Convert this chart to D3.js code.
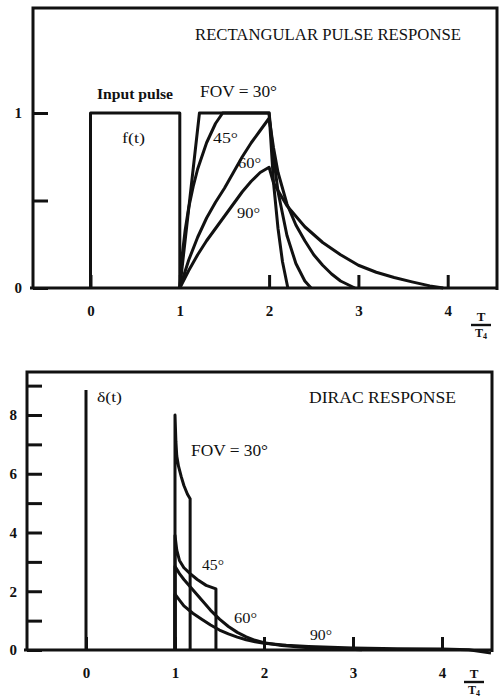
<!DOCTYPE html>
<html>
<head>
<meta charset="utf-8">
<script src="https://cdn.jsdelivr.net/npm/d3@7"></script>
<style>
  body { margin: 0; background: #fff; }
  text { font-family: "Liberation Serif", "DejaVu Serif", serif; fill: #111; }
  .curve { fill: none; stroke: #111; stroke-width: 3; stroke-linejoin: round; }
</style>
</head>
<body>
<script>
//////////
// DATA //
//////////

const xTicks = [0, 1, 2, 3, 4];

// rectangular pulse response, y in units of the pulse height
const pulseYTicks = [0, 0.5, 1];
const pulseYLabels = { 0: "0", 1: "1" };
const inputPulse = [[0, 0], [0, 1], [1, 1], [1, 0]];
const pulse30 = [[1, 0], [1.22, 1], [2, 1], [2.05, 0.6], [2.1, 0.34], [2.15, 0.15], [2.21, 0]];
const pulse45 = [[1, 0], [1.03, 0.2], [1.06, 0.33], [1.1, 0.46], [1.15, 0.58], [1.2, 0.68], [1.3, 0.83],
  [1.4, 0.94], [1.48, 1], [2, 1], [2.05, 0.75], [2.1, 0.55], [2.2, 0.3], [2.3, 0.14], [2.4, 0.04], [2.47, 0]];
const pulse60 = [[1, 0], [1.1, 0.16], [1.2, 0.29], [1.3, 0.4], [1.4, 0.49], [1.5, 0.57], [1.6, 0.66],
  [1.7, 0.75], [1.8, 0.83], [1.9, 0.9], [2, 0.97], [2.05, 0.8], [2.1, 0.66], [2.2, 0.48], [2.3, 0.36],
  [2.4, 0.27], [2.5, 0.19], [2.6, 0.13], [2.7, 0.08], [2.8, 0.04], [2.96, 0]];
const pulse90 = [[1, 0], [1.1, 0.1], [1.2, 0.19], [1.3, 0.27], [1.4, 0.34], [1.5, 0.41], [1.6, 0.48],
  [1.7, 0.55], [1.8, 0.61], [1.9, 0.66], [2, 0.69], [2.05, 0.6], [2.2, 0.47], [2.4, 0.35], [2.6, 0.26],
  [2.8, 0.19], [3, 0.13], [3.2, 0.09], [3.4, 0.06], [3.6, 0.035], [3.8, 0.012], [3.95, 0]];

// dirac response
const diracYTicks = [0, 1, 2, 3, 4, 5, 6, 7, 8, 9];
const diracYLabels = { 0: "0", 2: "2", 4: "4", 6: "6", 8: "8" };
const diracInput = [[0, 0], [0, 8.85]];
const dirac30 = [[1, 0], [1, 8], [1.01, 7.1], [1.02, 6.6], [1.04, 6.25], [1.07, 5.9], [1.1, 5.6],
  [1.14, 5.3], [1.17, 5.15], [1.17, 0]];
const dirac45 = [[1, 0], [1, 3.9], [1.02, 3.4], [1.05, 3.05], [1.1, 2.8], [1.17, 2.6], [1.25, 2.4],
  [1.35, 2.2], [1.46, 2.08], [1.46, 0]];
const dirac60 = [[1, 0], [1, 2.85], [1.05, 2.6], [1.1, 2.4], [1.2, 2.05], [1.3, 1.7], [1.4, 1.35],
  [1.5, 1.05], [1.6, 0.8], [1.7, 0.6], [1.8, 0.45], [1.9, 0.33], [2, 0.25], [2.2, 0.15], [2.5, 0.08],
  [2.8, 0.04], [3.1, 0.01]];
const dirac90 = [[1, 0], [1, 1.9], [1.05, 1.7], [1.1, 1.5], [1.2, 1.25], [1.3, 1.05], [1.4, 0.85],
  [1.5, 0.68], [1.6, 0.55], [1.7, 0.44], [1.8, 0.35], [1.9, 0.28], [2, 0.23], [2.25, 0.16], [2.5, 0.12],
  [3, 0.07], [3.5, 0.04], [4, 0.03], [4.3, 0.01], [4.55, -0.1]];

///////////
// SETUP //
///////////

const svg = d3
  .select("body")
  .append("svg")
  .attr("width", 499)
  .attr("height", 699);

svg.append("rect").attr("width", 499).attr("height", 699).attr("fill", "#fff");

// Draws one framed panel with its axes, curves and annotations
function drawPanel(cfg) {
  const g = svg.append("g");
  const f = cfg.frame;

  const x = d3.scaleLinear().domain([0, 4]).range(cfg.xRange);
  const y = d3.scaleLinear().domain(cfg.yDomain).range([f.bottom, cfg.yTop]);

  const line = d3
    .line()
    .x(d => x(d[0]))
    .y(d => y(d[1]));

  // frame
  g.append("path")
    .attr("d", `M${f.left},${f.bottom}V${f.top}H${f.right}V${f.bottom + 2}`)
    .attr("fill", "none")
    .attr("stroke", "#111")
    .attr("stroke-width", 3);

  // y axis, ticks pointing into the frame
  const yAxis = g
    .append("g")
    .attr("transform", `translate(${f.left},0)`)
    .call(
      d3.axisLeft(y)
        .tickValues(cfg.yTicks)
        .tickSizeInner(-15)
        .tickSizeOuter(0)
        .tickPadding(cfg.yPad)
        .tickFormat(d => cfg.yLabels[d] || "")
    );
  yAxis.select(".domain").remove();
  yAxis.selectAll("line").attr("stroke", "#111").attr("stroke-width", 3);
  yAxis.selectAll("text")
    .style("font-family", "Liberation Serif")
    .style("font-size", "15px")
    .style("font-weight", "bold")
    .attr("fill", "#111");

  // x axis along the bottom of the frame
  const xAxis = g
    .append("g")
    .attr("transform", `translate(0,${f.bottom})`)
    .call(
      d3.axisBottom(x)
        .tickValues(xTicks)
        .tickSizeInner(-13)
        .tickSizeOuter(0)
        .tickPadding(17)
        .tickFormat(d3.format("d"))
    );
  xAxis.select(".domain").remove();
  xAxis.selectAll("line").attr("stroke", "#111").attr("stroke-width", 3);
  xAxis.selectAll("text")
    .style("font-family", "Liberation Serif")
    .style("font-size", "15px")
    .style("font-weight", "bold")
    .attr("fill", "#111");

  g.append("line")
    .attr("x1", f.left - 3)
    .attr("x2", f.right)
    .attr("y1", f.bottom)
    .attr("y2", f.bottom)
    .attr("stroke", "#111")
    .attr("stroke-width", 3.2);

  // curves
  g.selectAll(".curve")
    .data(cfg.series)
    .join("path")
    .attr("class", "curve")
    .attr("d", line);

  // annotations
  cfg.labels.forEach(l => {
    const t = g.append("text")
      .attr("x", l.x)
      .attr("y", l.y)
      .attr("text-anchor", l.anchor || "start")
      .style("font-size", l.size + "px")
      .style("font-weight", l.bold ? "bold" : "normal")
      .text(l.text);
    if (l.width) t.attr("textLength", l.width).attr("lengthAdjust", "spacingAndGlyphs");
  });

  // T / T4 fraction at the end of the x axis
  const fr = cfg.fraction;
  g.append("text")
    .attr("x", fr.x)
    .attr("y", fr.y)
    .attr("text-anchor", "middle")
    .style("font-size", "13px")
    .style("font-weight", "bold")
    .text("T");
  g.append("line")
    .attr("x1", fr.x - 10)
    .attr("x2", fr.x + 10)
    .attr("y1", fr.y + 4)
    .attr("y2", fr.y + 4)
    .attr("stroke", "#111")
    .attr("stroke-width", 2.4);
  const den = g.append("text")
    .attr("x", fr.x)
    .attr("y", fr.y + 16)
    .attr("text-anchor", "middle")
    .style("font-size", "12px")
    .style("font-weight", "bold")
    .text("T");
  den.append("tspan").attr("dy", 2).style("font-size", "8px").text("4");
}

///////////////////////////////
// RECTANGULAR PULSE RESPONSE //
///////////////////////////////

drawPanel({
  frame: { left: 33, top: 8, right: 497, bottom: 288 },
  xRange: [90.5, 447.7],
  yDomain: [0, 1],
  yTop: 113,
  yTicks: pulseYTicks,
  yLabels: pulseYLabels,
  yPad: 11,
  series: [inputPulse, pulse30, pulse45, pulse60, pulse90],
  fraction: { x: 481, y: 321 },
  labels: [
    { text: "RECTANGULAR PULSE RESPONSE", x: 195, y: 40, size: 16, width: 266 },
    { text: "Input pulse", x: 97, y: 99, size: 15, bold: true, width: 76 },
    { text: "FOV = 30°", x: 200, y: 97, size: 16, width: 77 },
    { text: "f(t)", x: 122, y: 143, size: 15, width: 23 },
    { text: "45°", x: 213, y: 143, size: 15, width: 25 },
    { text: "60°", x: 238, y: 168, size: 15, width: 23 },
    { text: "90°", x: 237, y: 218, size: 15, width: 23 }
  ]
});

/////////////////////
// DIRAC RESPONSE //
/////////////////////

drawPanel({
  frame: { left: 27, top: 372, right: 492, bottom: 650 },
  xRange: [86, 442],
  yDomain: [0, 8],
  yTop: 415,
  yTicks: diracYTicks,
  yLabels: diracYLabels,
  yPad: 10,
  series: [diracInput, dirac30, dirac45, dirac60, dirac90],
  fraction: { x: 474, y: 678 },
  labels: [
    { text: "DIRAC RESPONSE", x: 309, y: 403, size: 16, width: 147 },
    { text: "δ(t)", x: 97, y: 402, size: 15, width: 25 },
    { text: "FOV = 30°", x: 191, y: 456, size: 16, width: 77 },
    { text: "45°", x: 202, y: 570, size: 15, width: 22 },
    { text: "60°", x: 234, y: 623, size: 15, width: 23 },
    { text: "90°", x: 310, y: 640, size: 15, width: 22 }
  ]
});
</script>
</body>
</html>
